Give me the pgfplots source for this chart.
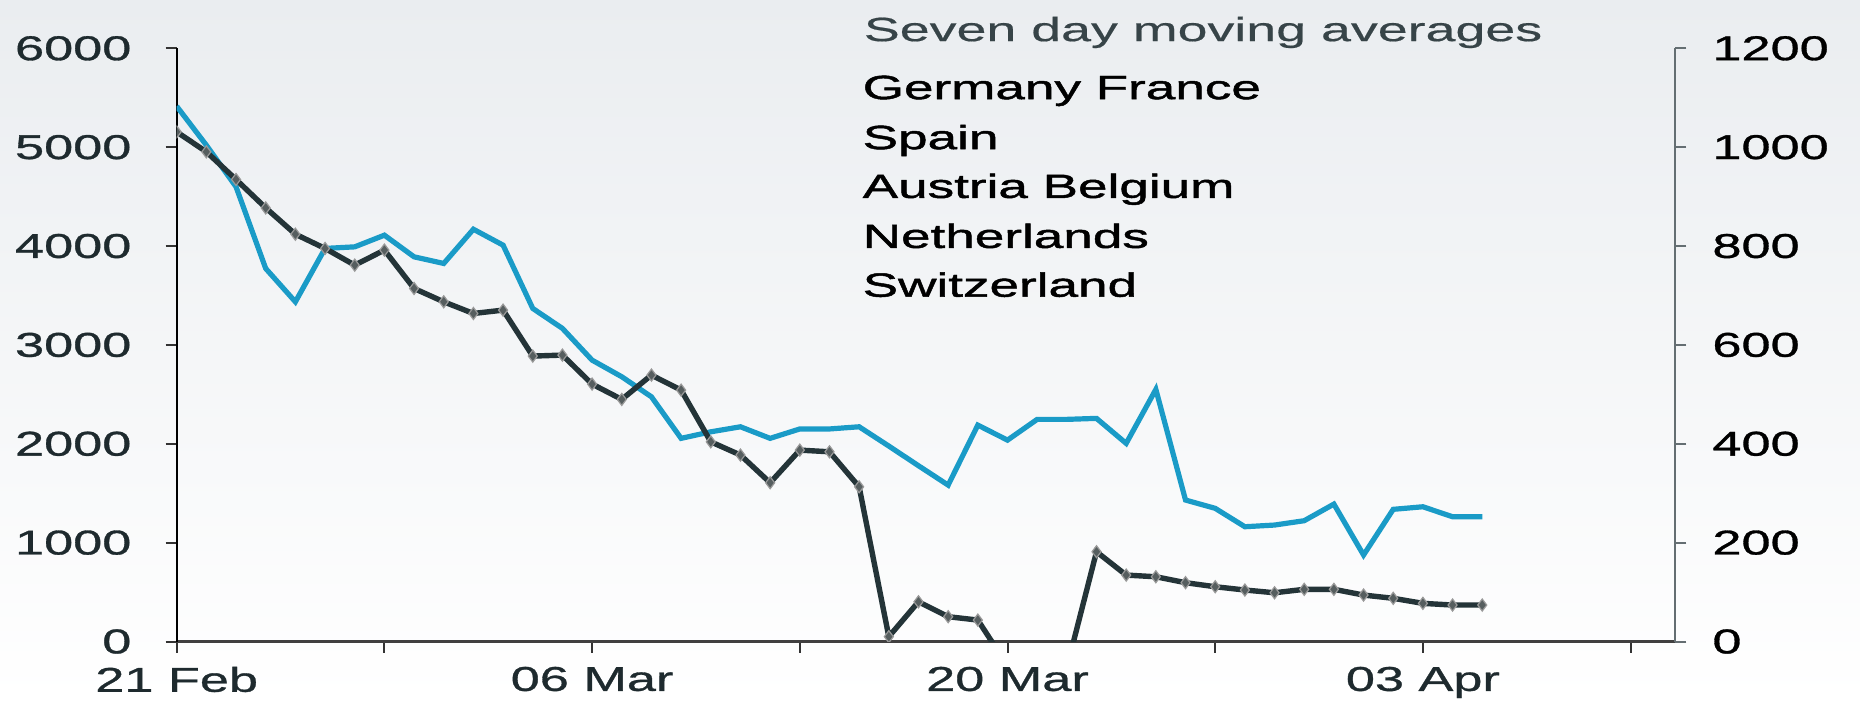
\documentclass[border=0pt]{standalone}
\usepackage{fontspec}
\setmainfont{Liberation Sans}[FakeStretch=1.52, FakeBold=0.9]
\newfontfamily\titlefont{Liberation Sans}[FakeStretch=1.6, FakeBold=0.5]
\newfontfamily\legfont{Liberation Sans}[FakeStretch=1.58, FakeBold=1.4]
\usepackage{pgfplots}
\usepackage{pgfplotstable}
\pgfplotsset{compat=1.18}
\definecolor{bgtop}{RGB}{234,237,240}
\definecolor{blueline}{RGB}{26,155,199}
\definecolor{darkline}{RGB}{36,52,56}
\definecolor{ticktext}{RGB}{30,42,46}
\definecolor{titlecol}{RGB}{55,68,72}
\definecolor{rightax}{RGB}{100,110,114}

\pgfplotstableread{
day val
0 5414
1 5020
2 4599
3 3773
4 3436
5 3976
6 3992
7 4110
8 3891
9 3824
10 4170
11 4009
12 3369
13 3167
14 2846
15 2678
16 2475
17 2055
18 2121
19 2172
20 2055
21 2150
22 2150
23 2172
24 1977
25 1778
26 1582
27 2189
28 2037
29 2247
30 2247
31 2257
32 2004
33 2550
34 1431
35 1347
36 1161
37 1178
38 1222
39 1390
40 875
41 1337
42 1363
43 1262
44 1262
}\bluedata

\pgfplotstableread{
day val
0 5155
1 4953
2 4673
3 4386
4 4120
5 3976
6 3807
7 3959
8 3571
9 3436
10 3318
11 3352
12 2887
13 2897
14 2604
15 2449
16 2695
17 2543
18 2020
19 1886
20 1606
21 1936
22 1919
23 1565
24 49
25 402
26 251
27 217
28 -245
29 -300
30 -264
31 908
32 672
33 655
34 595
35 554
36 521
37 493
38 528
39 528
40 470
41 437
42 386
43 369
44 369
}\darkdata

\begin{document}
\begin{tikzpicture}
\shade[top color=bgtop, bottom color=white] (-44.175pt,-14.625pt) rectangle (420.825pt,160.375pt);
\path[use as bounding box] (-44.175pt,-14.625pt) rectangle (420.825pt,160.375pt);
\begin{axis}[
  at={(0pt,0pt)}, anchor=south west, scale only axis,
  width=374.6pt, height=148.3pt,
  xmin=0, xmax=50.5, ymin=0, ymax=6000,
  axis y line*=left, axis x line*=bottom,
  x axis line style={-, draw=black!75, line width=0.7pt},
  y axis line style={-, draw=black, line width=0.5pt},
  tick align=outside, major tick length=2.8pt,
  every tick/.style={black!80, line width=0.5pt},
  xtick={0,7,...,49},
  xticklabels={21 Feb,,06 Mar,,20 Mar,,03 Apr,},
  ytick={0,1000,...,6000},
  /pgf/number format/1000 sep={},
  /pgf/number format/assume math mode=true,
  ticklabel style={font=\fontsize{8.6}{10}\selectfont, text=ticktext},
  yticklabel style={xshift=-5pt},
  clip marker paths=true,
]
\addplot[blueline, line width=1.3pt] table[x=day,y=val]{\bluedata};
\addplot[darkline, line width=1.35pt, mark=diamond*, mark size=1.5pt,
  mark options={fill=gray!55!darkline, draw=gray!80, line width=0.3pt}] table[x=day,y=val]{\darkdata};
\end{axis}
\begin{axis}[
  at={(0pt,0pt)}, anchor=south west, scale only axis,
  width=374.6pt, height=148.3pt,
  xmin=0, xmax=50.5, ymin=0, ymax=1200,
  axis y line*=right, axis x line=none,
  y axis line style={-, draw=rightax, line width=0.5pt},
  tick align=outside, major tick length=2.8pt,
  every tick/.style={rightax, line width=0.5pt},
  ytick={0,200,...,1200},
  /pgf/number format/1000 sep={},
  /pgf/number format/assume math mode=true,
  ticklabel style={font=\fontsize{8.6}{10}\selectfont, text=black},
  yticklabel style={xshift=3pt},
]
\addplot[draw=none] coordinates {(0,0)};
\end{axis}
\node[anchor=base west, inner sep=0pt, text=titlecol, font=\titlefont\fontsize{8.4}{10}\selectfont] at (171.6pt,150.1pt) {Seven day moving averages};
\node[anchor=base west, inner sep=0pt, text=black, font=\legfont\fontsize{8.4}{10}\selectfont] at (171.3pt,135.6pt) {Germany France};
\node[anchor=base west, inner sep=0pt, text=black, font=\legfont\fontsize{8.4}{10}\selectfont] at (171.3pt,123.1pt) {Spain};
\node[anchor=base west, inner sep=0pt, text=black, font=\legfont\fontsize{8.4}{10}\selectfont] at (171.3pt,110.9pt) {Austria Belgium};
\node[anchor=base west, inner sep=0pt, text=black, font=\legfont\fontsize{8.4}{10}\selectfont] at (171.3pt,98.4pt) {Netherlands};
\node[anchor=base west, inner sep=0pt, text=black, font=\legfont\fontsize{8.4}{10}\selectfont] at (171.3pt,86.2pt) {Switzerland};
\end{tikzpicture}
\end{document}
